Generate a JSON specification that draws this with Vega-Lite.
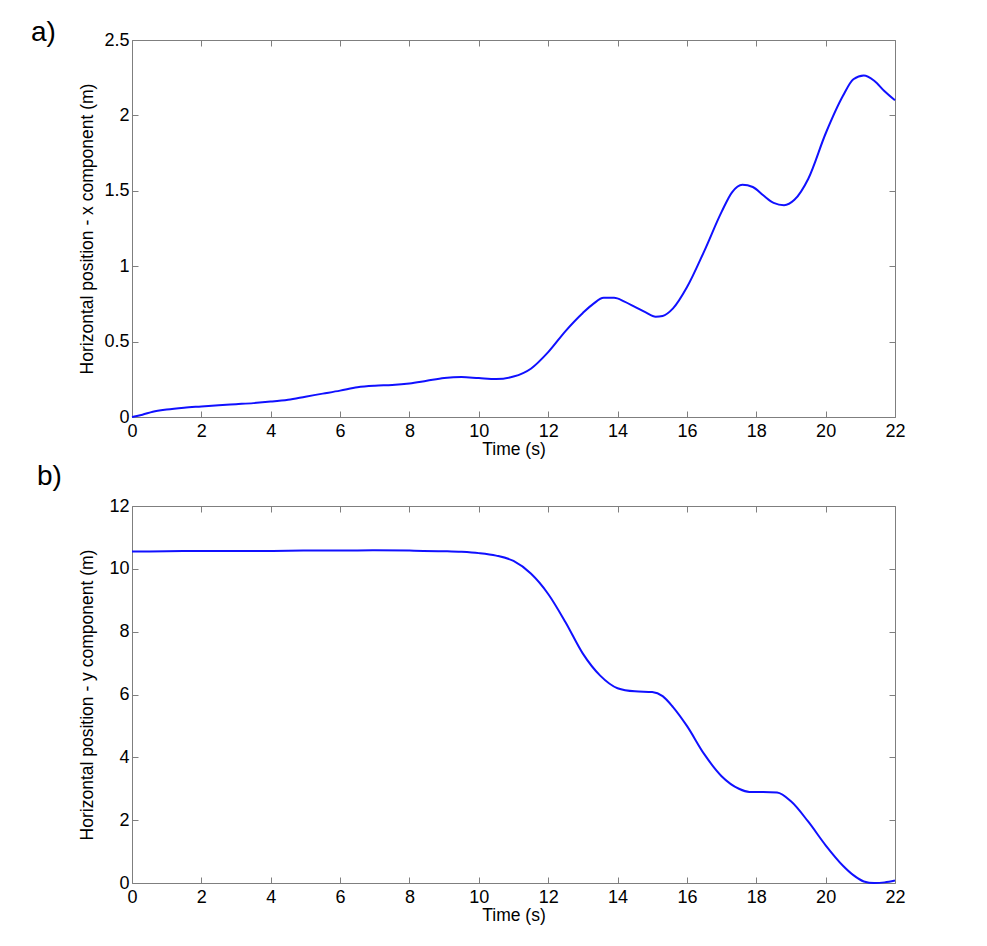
{
  "$schema": "https://vega.github.io/schema/vega-lite/v6.json",
  "background": "white",
  "padding": {"left": 30, "top": 18, "right": 5, "bottom": 5},
  "spacing": 4,
  "config": {
    "font": "Liberation Sans",
    "view": {"stroke": "#7f7f7f", "strokeWidth": 1},
    "axis": {
      "grid": false, "domain": false, "tickColor": "#7f7f7f", "tickSize": -6, "tickWidth": 1,
      "labelFontSize": 18, "labelColor": "black", "labelFont": "Liberation Sans",
      "titleFontSize": 17.5, "titleFontWeight": "normal", "titleColor": "black", "titleFont": "Liberation Sans",
      "labelFlush": false, "labelOverlap": false, "format": "~g"
    },
    "axisX": {"labelPadding": 11},
    "axisY": {"labelPadding": 9},
    "title": {"fontSize": 28, "fontWeight": "normal", "font": "Liberation Sans", "color": "black"}
  },
  "datasets": {
    "xcomp": [
      {"t": 0, "v": 0}, {"t": 0.3, "v": 0.015}, {"t": 0.6, "v": 0.035}, {"t": 1, "v": 0.05},
      {"t": 1.5, "v": 0.062}, {"t": 2, "v": 0.07}, {"t": 2.5, "v": 0.078}, {"t": 3, "v": 0.085},
      {"t": 3.5, "v": 0.092}, {"t": 4, "v": 0.102}, {"t": 4.5, "v": 0.115}, {"t": 5, "v": 0.135},
      {"t": 5.5, "v": 0.155}, {"t": 6, "v": 0.175}, {"t": 6.5, "v": 0.198}, {"t": 7, "v": 0.208},
      {"t": 7.5, "v": 0.212}, {"t": 8, "v": 0.222}, {"t": 8.5, "v": 0.24}, {"t": 9, "v": 0.258},
      {"t": 9.5, "v": 0.265}, {"t": 10, "v": 0.258}, {"t": 10.5, "v": 0.252}, {"t": 11, "v": 0.268},
      {"t": 11.5, "v": 0.32}, {"t": 12, "v": 0.43}, {"t": 12.5, "v": 0.57}, {"t": 13, "v": 0.69},
      {"t": 13.3, "v": 0.75}, {"t": 13.6, "v": 0.79}, {"t": 13.9, "v": 0.79}, {"t": 14.2, "v": 0.765},
      {"t": 14.5, "v": 0.73}, {"t": 14.8, "v": 0.695}, {"t": 15.1, "v": 0.665}, {"t": 15.3, "v": 0.67},
      {"t": 15.6, "v": 0.72}, {"t": 16, "v": 0.86}, {"t": 16.5, "v": 1.1}, {"t": 17, "v": 1.36},
      {"t": 17.3, "v": 1.49}, {"t": 17.6, "v": 1.54}, {"t": 17.9, "v": 1.525}, {"t": 18.2, "v": 1.47},
      {"t": 18.5, "v": 1.42}, {"t": 18.8, "v": 1.405}, {"t": 19.1, "v": 1.44}, {"t": 19.5, "v": 1.58},
      {"t": 20, "v": 1.88}, {"t": 20.5, "v": 2.13}, {"t": 20.8, "v": 2.24}, {"t": 21.1, "v": 2.265},
      {"t": 21.4, "v": 2.23}, {"t": 21.7, "v": 2.16}, {"t": 22, "v": 2.1}
    ],
    "ycomp": [
      {"t": 0, "v": 10.55}, {"t": 1, "v": 10.56}, {"t": 2, "v": 10.57}, {"t": 3, "v": 10.57},
      {"t": 4, "v": 10.57}, {"t": 5, "v": 10.58}, {"t": 6, "v": 10.58}, {"t": 7, "v": 10.59},
      {"t": 8, "v": 10.58}, {"t": 9, "v": 10.56}, {"t": 9.5, "v": 10.54}, {"t": 10, "v": 10.5},
      {"t": 10.5, "v": 10.42}, {"t": 11, "v": 10.25}, {"t": 11.5, "v": 9.85}, {"t": 12, "v": 9.2},
      {"t": 12.5, "v": 8.3}, {"t": 13, "v": 7.3}, {"t": 13.5, "v": 6.6}, {"t": 14, "v": 6.2},
      {"t": 14.5, "v": 6.1}, {"t": 15, "v": 6.08}, {"t": 15.3, "v": 5.95}, {"t": 15.6, "v": 5.6},
      {"t": 16, "v": 5.0}, {"t": 16.5, "v": 4.1}, {"t": 17, "v": 3.4}, {"t": 17.5, "v": 3.0},
      {"t": 17.8, "v": 2.9}, {"t": 18.2, "v": 2.9}, {"t": 18.6, "v": 2.88}, {"t": 19, "v": 2.6},
      {"t": 19.5, "v": 1.95}, {"t": 20, "v": 1.2}, {"t": 20.5, "v": 0.55}, {"t": 20.8, "v": 0.25},
      {"t": 21.1, "v": 0.05}, {"t": 21.4, "v": 0.0}, {"t": 21.7, "v": 0.02}, {"t": 22, "v": 0.08}
    ]
  },
  "vconcat": [
    {
      "width": 763, "height": 377,
      "title": {"text": "a)", "anchor": "start", "frame": "group", "dx": -101, "dy": 20},
      "data": {"name": "xcomp"},
      "layer": [
        {
          "mark": {"type": "line", "color": "#1010ff", "strokeWidth": 2, "interpolate": "monotone"},
          "encoding": {
            "x": {"field": "t", "type": "quantitative", "scale": {"domain": [0, 22], "nice": false},
                  "axis": {"values": [0, 2, 4, 6, 8, 10, 12, 14, 16, 18, 20, 22], "title": "Time (s)", "titlePadding": 0}},
            "y": {"field": "v", "type": "quantitative", "scale": {"domain": [0, 2.5], "nice": false},
                  "axis": {"values": [0, 0.5, 1, 1.5, 2, 2.5], "title": "Horizontal position - x component (m)", "titlePadding": 7}}
          }
        },
        {
          "mark": {"type": "line", "opacity": 0},
          "encoding": {
            "x": {"field": "t", "type": "quantitative", "axis": {"orient": "top", "values": [0, 2, 4, 6, 8, 10, 12, 14, 16, 18, 20, 22], "labels": false, "title": null}},
            "y": {"field": "v", "type": "quantitative", "axis": {"orient": "right", "values": [0, 0.5, 1, 1.5, 2, 2.5], "labels": false, "title": null}}
          }
        }
      ],
      "resolve": {"axis": {"x": "independent", "y": "independent"}}
    },
    {
      "width": 763, "height": 377,
      "title": {"text": "b)", "anchor": "start", "frame": "group", "dx": -95, "dy": -2},
      "data": {"name": "ycomp"},
      "layer": [
        {
          "mark": {"type": "line", "color": "#1010ff", "strokeWidth": 2, "interpolate": "monotone"},
          "encoding": {
            "x": {"field": "t", "type": "quantitative", "scale": {"domain": [0, 22], "nice": false},
                  "axis": {"values": [0, 2, 4, 6, 8, 10, 12, 14, 16, 18, 20, 22], "title": "Time (s)", "titlePadding": 0}},
            "y": {"field": "v", "type": "quantitative", "scale": {"domain": [0, 12], "nice": false},
                  "axis": {"values": [0, 2, 4, 6, 8, 10, 12], "title": "Horizontal position - y component (m)", "titlePadding": 12}}
          }
        },
        {
          "mark": {"type": "line", "opacity": 0},
          "encoding": {
            "x": {"field": "t", "type": "quantitative", "axis": {"orient": "top", "values": [0, 2, 4, 6, 8, 10, 12, 14, 16, 18, 20, 22], "labels": false, "title": null}},
            "y": {"field": "v", "type": "quantitative", "axis": {"orient": "right", "values": [0, 2, 4, 6, 8, 10, 12], "labels": false, "title": null}}
          }
        }
      ],
      "resolve": {"axis": {"x": "independent", "y": "independent"}}
    }
  ]
}
